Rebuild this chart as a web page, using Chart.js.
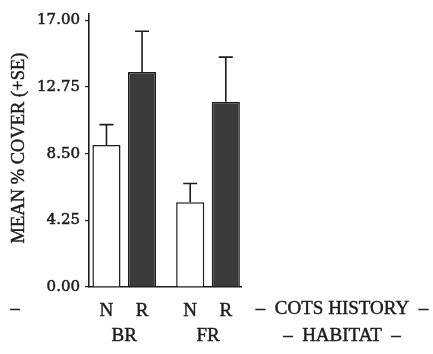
<!DOCTYPE html>
<html>
<head>
<meta charset="utf-8">
<script src="https://cdn.jsdelivr.net/npm/chart.js@4/dist/chart.umd.min.js"></script>
<style>
  html, body { margin: 0; padding: 0; background: #fff; }
  #wrap { width: 433px; height: 354px; }
</style>
</head>
<body>
<div id="wrap"><canvas id="c" width="433" height="354"></canvas></div>
<script>
// Habitat groups and COTS history within each group
const habitats = ['BR', 'FR'];
const historyLabels = ['N', 'R'];

// Mean % cover and standard errors
const meanN = [9.05, 5.4];
const meanR = [13.7, 11.8];
const seN = [1.3, 1.2];
const seR = [2.6, 2.85];

// Y axis tick values
const yTicks = [0, 4.25, 8.5, 12.75, 17];

const yTitle = 'MEAN % COVER (+SE)';
const historyTitle = '–  COTS HISTORY  –';
const habitatTitle = '–  HABITAT  –';

const ink = '#1c1c1c';
const serif = '"Liberation Serif", "DejaVu Serif", serif';

// Filled text with a thin outline so it reads a little heavier
function boldText(ctx, text, x, y) {
  ctx.fillText(text, x, y);
  ctx.strokeText(text, x, y);
}

// Error bars: vertical line from bar top to mean + SE, with a short cap
const errorBars = {
  id: 'errorBars',
  afterDatasetsDraw(chart) {
    const ctx = chart.ctx;
    const y = chart.scales.y;
    ctx.save();
    ctx.strokeStyle = ink;
    ctx.lineWidth = 1.6;
    chart.data.datasets.forEach((ds, i) => {
      chart.getDatasetMeta(i).data.forEach((bar, j) => {
        const top = y.getPixelForValue(ds.data[j].y + ds.se[j]);
        ctx.beginPath();
        ctx.moveTo(bar.x, bar.y);
        ctx.lineTo(bar.x, top);
        ctx.moveTo(bar.x - 7, top);
        ctx.lineTo(bar.x + 7, top);
        ctx.stroke();
      });
    });
    ctx.restore();
  }
};

// Category labels under the bars, the axis captions and the rotated y title
const labels = {
  id: 'labels',
  afterDraw(chart) {
    const ctx = chart.ctx;
    ctx.save();
    ctx.fillStyle = ink;
    ctx.strokeStyle = ink;
    ctx.lineWidth = 0.45;
    ctx.font = '19px ' + serif;
    ctx.textAlign = 'center';
    ctx.textBaseline = 'middle';
    const metaN = chart.getDatasetMeta(0).data;
    const metaR = chart.getDatasetMeta(1).data;
    habitats.forEach((h, j) => {
      boldText(ctx, historyLabels[0], metaN[j].x, 311);
      boldText(ctx, historyLabels[1], metaR[j].x, 311);
      boldText(ctx, h, (metaN[j].x + metaR[j].x) / 2, 336);
    });
    boldText(ctx, '–', 15, 309);
    boldText(ctx, historyTitle, 342, 309);
    boldText(ctx, habitatTitle, 342, 336);

    ctx.translate(19, 148);
    ctx.rotate(-Math.PI / 2);
    ctx.font = '18.5px ' + serif;
    boldText(ctx, yTitle, 0, 0);
    ctx.restore();
  }
};

new Chart(document.getElementById('c'), {
  type: 'bar',
  data: {
    datasets: [
      {
        label: historyLabels[0],
        data: meanN.map((v, i) => ({ x: i, y: v })),
        se: seN,
        backgroundColor: '#ffffff',
        borderColor: ink,
        borderWidth: 1.5
      },
      {
        label: historyLabels[1],
        data: meanR.map((v, i) => ({ x: i, y: v })),
        se: seR,
        backgroundColor: '#3b3b3b',
        borderColor: '#1a1a1a',
        borderWidth: 1.5
      }
    ]
  },
  options: {
    responsive: false,
    animation: false,
    devicePixelRatio: 1,
    categoryPercentage: 0.85,
    barPercentage: 0.79,
    layout: { padding: { left: 0, right: 192, top: 13, bottom: 0 } },
    plugins: {
      legend: { display: false },
      tooltip: { enabled: false },
      title: { display: false }
    },
    scales: {
      x: {
        type: 'linear',
        offset: false,
        min: -0.421,
        max: 1.394,
        afterBuildTicks(scale) { scale.ticks = habitats.map((h, i) => ({ value: i })); },
        ticks: { display: false },
        grid: { display: true, offset: false, drawOnChartArea: false, drawTicks: false },
        border: { display: true, color: ink, width: 1.6 },
        afterFit(scale) { scale.height = 67; }
      },
      y: {
        min: 0,
        max: 17.4,
        afterBuildTicks(scale) { scale.ticks = yTicks.map(v => ({ value: v })); },
        ticks: {
          padding: 5,
          color: ink,
          textStrokeColor: ink,
          textStrokeWidth: 0.5,
          font: { family: '"DejaVu Serif", serif', size: 15 },
          callback: v => Number(v).toFixed(2)
        },
        grid: { drawOnChartArea: false, drawTicks: true, tickLength: 4, color: ink, lineWidth: 1.2 },
        border: { display: true, color: ink, width: 1.6 },
        afterFit(scale) { scale.width = 89; }
      }
    }
  },
  plugins: [errorBars, labels]
});
</script>
</body>
</html>
